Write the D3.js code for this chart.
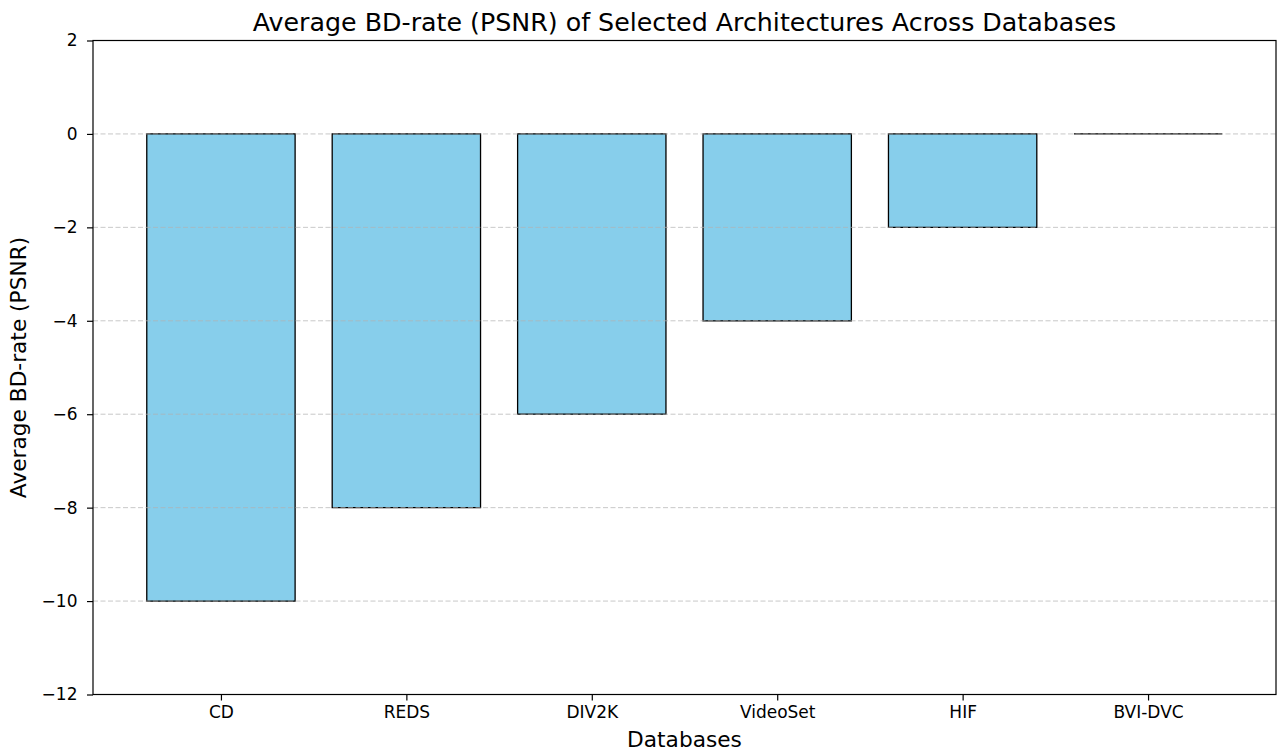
<!DOCTYPE html>
<html><head><meta charset="utf-8">
<script src="https://cdn.jsdelivr.net/npm/d3@7"></script>
<style>body{margin:0;background:#fff;} text{font-family:"DejaVu Sans",sans-serif;}</style>
</head><body><svg id="c" width="1279" height="751"></svg>
<script>
const categories = ["CD","REDS","DIV2K","VideoSet","HIF","BVI-DVC"];
const values = [-10,-8,-6,-4,-2,0];
const yTicks = [2,0,-2,-4,-6,-8,-10,-12];

const svg = d3.select("#c");
const L=93, R=1276, T=40.5, B=694.5;
const x = d3.scaleLinear().domain([-0.69,5.69]).range([L,R]);
const y = d3.scaleLinear().domain([-12,2]).range([B,T]);
const bw = x(0.4)-x(-0.4);

// bars (path so zero-height bar still shows its edge)
svg.append("g").selectAll("path").data(values).join("path")
  .attr("d",(d,i)=>{const x0=x(i)-bw/2,x1=x(i)+bw/2,y0=y(0),y1=y(d);return `M${x0},${y0}H${x1}V${y1}H${x0}Z`;})
  .attr("fill","#87ceeb").attr("stroke","#000").attr("stroke-width",1.3);

// grid (on top)
svg.append("g").selectAll("line").data(yTicks.filter(t=>t!==2&&t!==-12)).join("line")
  .attr("x1",L).attr("x2",R).attr("y1",d=>y(d)).attr("y2",d=>y(d))
  .attr("stroke","#b0b0b0").attr("stroke-opacity",0.7).attr("stroke-width",1)
  .attr("stroke-dasharray","5,2.5");

// axes
const yAxis = d3.axisLeft(y).tickValues(yTicks).tickSize(6).tickPadding(9.5)
  .tickFormat(d=>d<0?"\u2212"+Math.abs(d):d);
const gy = svg.append("g").attr("transform",`translate(${L},0)`).call(yAxis);
const xAxis = d3.axisBottom(x).tickValues(d3.range(categories.length)).tickSize(6).tickPadding(5.5)
  .tickFormat(i=>categories[i]);
const gx = svg.append("g").attr("transform",`translate(0,${B})`).call(xAxis);
[gx,gy].forEach(g=>{g.select(".domain").remove();g.selectAll("text").attr("font-size",17).attr("fill","#000").style("font-family","DejaVu Sans");g.selectAll("line").attr("stroke","#000").attr("stroke-width",1.2);});

// frame
svg.append("rect").attr("x",L).attr("y",T).attr("width",R-L).attr("height",B-T)
  .attr("fill","none").attr("stroke","#000").attr("stroke-width",1.2);

svg.append("text").attr("x",(L+R)/2).attr("y",31).attr("text-anchor","middle")
  .attr("font-size",25.3).text("Average BD-rate (PSNR) of Selected Architectures Across Databases");
svg.append("text").attr("x",(L+R)/2).attr("y",747).attr("text-anchor","middle")
  .attr("font-size",21.7).text("Databases");
svg.append("text").attr("transform",`translate(26,${(T+B)/2}) rotate(-90)`).attr("text-anchor","middle")
  .attr("font-size",21.7).text("Average BD-rate (PSNR)");
</script></body></html>
